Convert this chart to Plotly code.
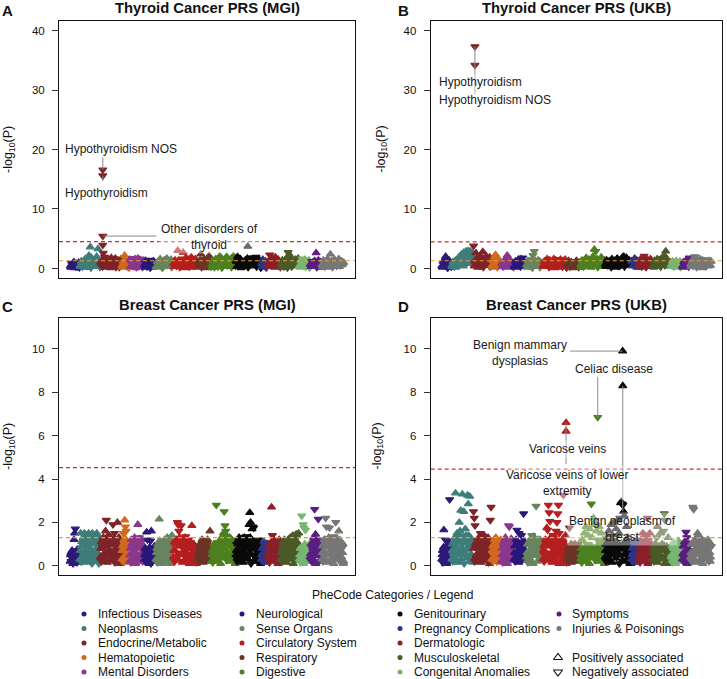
import plotly.graph_objects as go
from itertools import zip_longest

W, H = 727, 679
FONT = "Liberation Sans, Arial, Helvetica, sans-serif"

# ---------------- data ----------------
CATEGORIES = ["Infectious Diseases", "Neoplasms", "Endocrine/Metabolic", "Hematopoietic",
              "Mental Disorders", "Neurological", "Sense Organs", "Circulatory System",
              "Respiratory", "Digestive", "Genitourinary", "Pregnancy Complications",
              "Dermatologic", "Musculoskeletal", "Congenital Anomalies", "Symptoms",
              "Injuries & Poisonings"]
COLORS = ["#2E1A78", "#3F7D7B", "#7E2428", "#D2691E", "#8A378C", "#2A1779", "#688460",
          "#B41F1F", "#6B3427", "#4D8020", "#0A0A0A", "#2E3486", "#8B1F2A", "#4B5A28",
          "#77B672", "#5A1D80", "#777777"]

# number of phecodes per category (x extent of each block)
COUNTS_MGI = [60, 126, 132, 48, 90, 72, 108, 150, 84, 150, 156, 42, 78, 114, 66, 72, 138]
COUNTS_UKB = [63, 135, 114, 60, 78, 78, 102, 150, 84, 153, 165, 45, 87, 114, 69, 51, 132]

# -log10(P) per phecode, in phecode order; sign = direction (+ positive, - negative).
# *_VALUES hold the visible outline of each block, *_BASE the phecodes filling its body;
# the two are interleaved in phecode order.
A_VALUES = [
    "0.4 -0.9 0.2 1.1 -0.5 0.8 -0.3 1.0",
    "0.5 1.2 -0.3 0.9 1.6 0.2 1.4 2.2 3.6 1.8 -0.6 1.1 0.4 2.0 3.3 1.3",
    "-0.6 1.3 -2.6 -1.9 0.4 1.6 -0.8 1.2 1.8 0.3 -1.1 1.7 0.6 1.4 -0.2 1.5",
    "0.5 1.2 2.2 0.8 -0.3 1.0",
    "1.5 0.4 -1.7 0.9 1.6 -0.2 1.7 0.7 -1.6 1.2 0.5",
    "0.6 1.3 -0.3 1.1 0.8 -1.4 0.2 1.2 0.5",
    "0.3 1.1 -0.7 1.6 0.9 -0.2 1.4 0.6 1.7 -1.0 0.4 1.5 0.8",
    "0.8 1.4 -0.4 3.0 1.1 0.3 -1.6 2.7 1.2 1.8 -0.7 1.5 0.5 1.9 -1.2 0.9 1.6 0.2",
    "1.1 -0.5 2.4 1.3 0.7 -1.5 0.3 1.2 2.1 0.8",
    "0.6 1.3 -0.2 1.6 0.9 -1.1 2.1 0.4 1.5 1.0 -0.7 2.0 1.4 0.3 1.6 -0.9 2.1 1.2",
    "1.2 2.0 -0.5 1.6 0.8 -1.4 1.1 0.3 1.7 -0.9 1.5 0.6 -1.8 1.3 -1.9 0.7 1.6 1.0",
    "0.8 1.5 -0.4 1.2 0.6",
    "1.2 -2.3 0.6 1.7 -0.9 1.9 0.4 1.5 -1.1",
    "0.7 1.4 -0.3 1.1 1.8 -2.7 2.3 1.6 0.5 -1.2 1.5 0.9 1.7",
    "0.5 1.3 -1.6 0.8 1.5 0.2 -1.1 1.4",
    "0.7 -1.2 0.4 1.3 2.6 0.9 -0.5 1.1",
    "0.6 1.4 -0.3 1.1 1.6 -0.8 2.4 1.3 0.4 1.5 -1.0 0.7 1.6 -0.5 1.2 0.9",
]
A_BASE = [
    "0.2 -0.6 0.9 0.1 -0.3 0.7 0.5 -0.15",
    "0.3 -0.8 1.0 0.2 1.5 -0.4 0.7 1.2 -0.1 0.9 1.4 0.3 -1.0 0.6 1.1 -0.2",
    "0.9 -0.3 1.1 0.2 -1.3 0.7 1.4 0.1 -0.9 1.0 0.5 -0.2 1.2 0.8 -0.4 1.3",
    "0.2 -0.8 1.4 0.4 1.0 -0.1",
    "0.3 1.2 -0.6 1.4 0.1 1.0 -0.4 1.5 0.8 -0.2 1.1",
    "0.2 -0.9 0.5 1.0 -0.1 0.7 1.1 0.3 -0.8",
    "0.2 -0.8 1.2 0.5 -0.1 1.0 1.3 0.3 -0.6 1.1 0.7 -0.2 1.2",
    "0.3 -1.0 0.6 1.3 -0.2 1.0 0.5 -1.4 0.1 1.1 0.7 -0.3 1.4 0.2 1.0 -0.6 1.2 0.4",
    "0.4 1.4 -0.2 0.9 1.5 0.1 -1.0 0.6 1.3 -0.3",
    "0.2 -0.9 1.1 0.5 -0.3 1.3 0.7 -0.1 1.2 0.4 1.4 -0.5 0.8 1.1 -0.2 1.3 0.6 -0.4",
    "0.3 -0.9 1.3 0.1 1.1 -0.6 1.4 0.5 -0.2 1.2 0.8 -1.1 0.4 1.0 -0.3 1.3 0.6 -0.1",
    "0.3 -1.0 0.5 -0.1 0.9",
    "0.3 1.0 -0.5 1.4 0.2 -1.2 0.8 1.1 -0.2",
    "0.2 -0.9 1.2 0.5 -0.1 1.4 0.8 -0.3 1.1 0.4 -1.3 0.6 1.0",
    "0.2 -0.9 1.1 0.4 -0.3 1.2 0.7 -0.1",
    "0.3 1.0 -0.8 0.6 -0.2 1.4 0.2 -0.6",
    "0.3 -0.9 1.0 0.2 -1.2 0.9 0.5 -0.2 1.1 0.8 -0.4 1.3 0.3 -1.1 0.6 1.0",
]
B_VALUES = [
    "0.4 1.2 -0.6 2.0 0.9 -0.2 1.3 0.7",
    "0.5 1.1 -0.3 1.3 0.8 1.6 -0.9 2.0 1.2 2.4 0.6 2.7 1.5 2.9 -1.0 3.0 2.2 2.9 1.4 2.6",
    "-3.8 1.2 2.6 0.7 -1.5 2.0 0.4 1.8 2.8 1.3 -0.8 2.1 1.6 0.5 1.9 -1.2",
    "0.5 1.3 1.9 2.3 1.4 -0.6 1.0 0.3",
    "0.8 -0.3 1.4 1.1 2.2 1.6 0.5 -1.2 1.0",
    "0.4 1.2 -0.7 1.5 0.9 1.6 -1.8 1.1 0.6",
    "0.6 1.3 -0.4 1.0 1.4 -2.2 -2.9 1.2 0.3 1.4 -0.9 1.1 0.7",
    "0.5 1.2 -0.8 1.6 0.3 1.4 -1.1 0.9 1.6 0.6 -1.5 1.2 0.2 1.5 -0.6 1.3 1.0 0.4",
    "0.7 1.3 -0.3 1.1 0.5 -1.2 0.9 1.3 0.2 1.0",
    "0.6 1.4 -0.3 1.1 1.8 0.4 1.5 -0.9 1.2 2.0 3.2 -2.9 1.6 0.8 -1.3 1.9 0.5 1.2",
    "0.7 1.4 -0.5 1.2 0.3 1.6 -1.0 1.3 0.8 1.7 -0.4 1.1 1.5 1.9 2.0 -1.2 1.8 0.6 1.4 0.9",
    "1.2 0.5 1.7 -0.9 1.3",
    "0.6 1.5 -0.3 1.2 -2.1 1.7 0.9 1.4 -1.0 1.6 0.4",
    "0.5 1.3 -0.8 1.6 1.0 -0.4 1.7 1.2 2.2 2.9 1.5 0.7 1.1",
    "0.6 1.2 -0.3 1.0 1.3 0.4 -0.9 1.2 0.7",
    "0.4 1.1 -0.7 1.0 0.6 -1.8",
    "0.7 1.3 -0.4 -2.0 1.5 1.1 0.3 1.6 -0.9 1.4 0.6 1.2 -1.5 0.8 1.3 0.5",
]
B_BASE = [
    "0.2 -0.8 1.0 0.4 -0.1 1.4 0.6 -0.3",
    "0.3 -0.7 0.9 0.2 1.1 -0.5 1.4 0.6 -1.5 1.8 0.4 1.3 -2.0 0.9 2.2 1.1 -1.7 2.4 0.8 1.9",
    "0.4 -1.0 1.6 0.2 1.1 -0.4 1.4 0.8 -0.2 1.7 0.5 -1.3 0.9 1.5 -0.3 1.0",
    "0.2 -0.9 1.2 0.6 -0.2 1.6 0.8 -0.5",
    "0.3 1.0 -0.6 1.5 0.2 -0.9 1.3 0.6 -0.2",
    "0.2 -1.0 0.5 1.3 -0.3 1.0 0.3 -1.2 0.8",
    "0.2 -0.8 1.2 0.5 -0.1 1.0 0.8 -1.2 0.4 1.3 -0.2 0.9 0.5",
    "0.3 -1.0 0.8 1.3 -0.2 1.1 0.5 -1.3 0.1 1.4 0.7 -0.4 1.2 0.9 -0.3 0.6 1.5 -0.1",
    "0.3 1.0 -0.6 0.8 0.1 -0.9 1.2 0.5 -0.2 0.7",
    "0.2 -0.8 1.0 0.4 -1.3 0.9 1.3 0.2 -0.5 1.1 1.4 0.6 -0.2 1.0 0.3 -1.1 0.8 1.4",
    "0.3 -0.9 1.1 0.5 -0.2 1.4 0.8 -1.2 0.2 1.0 1.3 -0.6 0.4 1.6 -0.3 1.1 0.7 -1.0 0.5 1.2",
    "0.4 -1.0 0.9 0.2 -0.6",
    "0.2 1.1 -0.7 0.5 1.3 -0.2 0.8 1.2 0.3 -1.1 0.9",
    "0.2 -0.9 1.1 0.4 1.4 -0.3 0.9 1.5 -0.5 1.3 0.8 -1.2 0.4",
    "0.3 -0.8 0.9 0.2 -1.1 0.7 0.5 -0.2 1.0",
    "0.2 -0.8 1.3 0.5 -0.3 0.9",
    "0.3 -1.0 0.9 1.2 -0.2 0.6 1.4 0.1 -1.2 0.8 1.1 -0.3 1.0 0.4 -0.8 1.2",
]
C_VALUES = [
    "0.2 0.6 -0.4 0.7 0.1 -0.5 1.2 1.5 -1.7 0.3 -0.6 0.75 0.4 0.15 0.55",
    "0.3 1.5 0.9 -0.2 1.2 0.6 1.5 -1.0 0.4 1.4 0.8 -0.5 1.5 1.1 0.2 -1.3 0.7 1.5 1.0 -0.4 1.4 0.6 1.2 1.5 0.3 0.9 -0.1 1.3",
    "0.4 1.1 -0.3 0.8 1.3 0.2 -0.9 1.6 -2.1 1.2 0.5 1.4 -1.0 0.7 1.3 -0.4 1.1 -1.9 0.6 -1.5 1.2 0.3 1.0 2.0 -0.8 1.3 0.5 0.1 0.9",
    "0.3 0.9 -1.5 1.2 2.1 -1.8 -1.6 0.6 1.1 0.4 0.15",
    "0.2 0.8 1.2 -0.5 1.0 0.4 1.3 -0.9 0.6 1.1 1.9 0.3 -1.3 0.9 0.5 1.2 -0.2 0.7",
    "0.3 0.8 -0.5 1.55 -1.2 0.6 0.1 0.85 -1.15 1.6 0.4 -0.7 0.2 0.9 0.5",
    "0.3 0.8 -0.2 1.0 2.15 0.5 -0.9 0.7 1.1 0.2 -0.6 1.2 0.9 0.4 1.3 -1.0 0.6 1.2 0.1 -1.3 1.4 0.8",
    "0.4 1.1 0.7 -0.3 1.2 -2.0 -1.9 -1.6 1.3 0.5 -1.85 0.9 1.2 0.2 -0.8 1.3 -1.35 0.6 1.1 0.3 -1.0 0.8 1.0 0.5 1.85 -0.7 1.0 0.2 0.9 0.6 0.1 0.4",
    "0.3 0.7 -0.5 1.0 0.2 1.2 -0.8 0.6 1.1 0.4 -1.0 0.9 1.2 0.2 0.7 1.6 0.5",
    "0.2 0.7 -0.4 1.0 0.5 0.9 -2.8 0.3 1.0 -0.6 0.8 1.2 0.4 1.3 -1.0 1.5 -2.5 -1.85 -1.6 1.4 0.6 1.2 -0.3 1.3 0.9 1.1 0.5 -1.2 0.8 0.3 0.1",
    "0.5 1.1 -0.3 0.8 1.3 0.2 1.0 -0.7 1.2 0.6 -1.3 1.3 0.4 -1.35 1.0 0.3 1.2 1.9 2.45 2.0 0.8 1.7 -1.8 -1.75 1.1 -0.5 0.9 0.3 1.0 -0.6 0.7 0.2 0.1",
    "0.3 0.8 -0.5 1.1 0.2 -0.9 0.6 1.0",
    "0.4 1.0 -0.2 0.7 2.7 -1.4 1.2 0.3 -0.8 1.1 0.5 0.9 -0.3 1.2 0.6",
    "0.3 0.8 -0.5 1.1 0.2 0.9 -0.7 1.0 0.4 1.2 -0.3 0.8 1.3 0.5 -1.1 1.4 0.7 1.35 -0.9 1.45 1.1 0.4 1.5",
    "0.3 0.8 -0.4 -2.3 0.6 -1.9 -1.75 1.0 -1.65 0.2 0.9 -0.6 0.5 1.0",
    "0.4 1.0 -0.3 0.8 1.3 -2.6 1.45 0.6 -1.2 -2.15 0.2 1.1 0.7",
    "0.3 0.9 -0.5 1.2 0.6 -2.2 -1.8 1.0 0.2 1.3 -1.75 0.7 1.1 -0.4 0.5 1.2 -1.35 0.8 -2.0 0.3 1.0 -0.6 1.6 0.9 0.4 1.1 -0.8 0.6 0.1",
]
C_BASE = [
    "0.5 -0.2 0.3 0.65 -0.1 0.45 0.2 -0.7 0.35 0.55 -0.15 0.6 0.25 -0.4 0.5",
    "0.7 -0.2 1.1 0.4 1.3 -0.6 0.9 0.15 1.2 -0.8 0.5 1.4 0.3 -1.0 0.8 1.3 -0.1 0.6 1.1 0.35 -1.2 0.75 1.4 0.2 -0.9 0.55 1.2 0.4",
    "0.8 -0.2 1.0 0.5 -1.2 0.3 0.9 1.25 -0.6 0.15 1.1 0.7 -0.4 1.3 0.25 0.95 -1.1 0.55 1.2 -0.15 0.8 0.4 1.05 -0.7 0.3 1.2 0.6 -0.9 0.2",
    "0.7 -0.2 1.0 0.4 1.25 -0.8 0.5 1.1 0.25 -0.6 0.9",
    "0.5 -0.15 1.0 0.3 1.2 -0.7 0.6 0.1 1.1 -0.4 0.8 0.25 1.25 -0.9 0.45 1.0 0.2 -0.6",
    "0.5 -0.2 0.75 0.3 -0.6 0.15 0.8 0.45 -0.1 0.65 0.35 -0.8 0.2 0.55 -0.4",
    "0.6 -0.15 1.0 0.35 1.15 -0.5 0.8 0.1 1.05 -0.7 0.45 0.9 0.2 -1.1 0.65 1.2 0.3 -0.85 0.5 1.0 -0.25 0.7",
    "0.7 -0.2 1.0 0.4 1.15 -0.6 0.25 0.9 -1.1 0.5 1.2 0.15 -0.8 0.65 1.05 0.3 -0.45 0.95 0.55 -1.2 0.1 0.8 1.1 -0.35 0.6 0.2 1.0 -0.7 0.45 0.85 -0.15 0.5",
    "0.5 -0.2 0.9 0.35 1.1 -0.6 0.15 0.8 -1.05 0.45 0.65 0.25 -0.85 1.0 0.3 -0.5 0.6",
    "0.5 -0.15 0.8 0.3 1.0 -0.6 0.2 0.9 -0.4 0.65 1.1 0.1 -0.85 0.55 1.2 0.35 -1.0 0.75 1.3 -0.25 0.5 1.1 0.2 -0.9 1.25 0.6 0.4 -1.1 1.0 0.3 0.7",
    "0.7 -0.2 1.0 0.45 1.25 -0.6 0.3 0.9 -1.1 0.15 1.2 0.55 -0.8 1.05 0.35 -0.4 0.95 0.6 1.3 -0.1 0.75 1.15 -0.5 0.25 1.0 -0.9 0.5 0.8 0.2 -1.2 0.65 0.4 0.9",
    "0.5 -0.2 0.9 0.35 -0.7 0.15 1.0 0.6",
    "0.6 -0.15 0.9 0.3 1.1 -0.5 0.2 0.8 -1.0 0.45 0.7 0.1 -0.6 1.05 0.35",
    "0.6 -0.2 1.0 0.35 1.2 -0.6 0.15 0.85 -1.0 0.5 1.25 0.3 -0.8 0.7 1.1 0.1 -0.45 0.95 0.55 -1.3 0.25 1.0 0.6",
    "0.5 -0.15 0.8 0.3 -0.65 0.1 0.95 0.45 -0.2 0.7 0.35 -0.9 0.6 0.2",
    "0.55 -0.2 0.9 0.3 1.15 -0.6 0.1 0.8 -1.0 0.45 0.7 0.25 -0.5",
    "0.6 -0.2 1.0 0.35 1.2 -0.6 0.15 0.85 -1.05 0.5 1.15 0.25 -0.8 0.7 1.0 0.1 -0.45 0.95 0.55 -1.25 0.3 0.8 1.1 -0.2 0.6 0.4 -0.9 1.0 0.2",
]
D_VALUES = [
    "0.3 0.7 -0.2 1.65 0.5 -1.2 0.9 0.1 -1.15 0.6 1.0 -3.05 0.4 0.8",
    "0.3 1.0 0.6 -0.4 1.3 3.35 0.8 1.5 0.2 1.1 2.0 1.6 2.55 -0.7 3.3 1.2 2.5 0.5 1.7 1.4 -1.0 3.25 2.85 0.9 3.2 1.3 0.4 1.1 0.15",
    "-2.5 -2.2 -1.85 0.4 1.1 -0.3 0.8 1.3 0.2 -1.5 0.9 1.2 0.5 -0.8 1.4 0.3 1.0 -1.2 0.6 1.3 0.9 0.1 -2.1 -2.7",
    "0.3 0.9 -0.5 1.2 0.6 1.3 -0.2 1.0 0.4 -1.1 0.8 1.2",
    "0.2 0.8 -0.4 1.1 0.6 1.3 -0.9 0.4 1.0 -1.85 -1.8 0.7 1.2 -0.3 0.9 0.5",
    "0.3 0.9 -0.5 1.2 -1.65 0.6 0.2 -1.5 1.0 0.4 -1.4 1.1 0.7 -2.4 0.5 1.0 0.3",
    "0.4 1.0 -0.3 0.7 1.2 0.2 -1.4 0.9 1.35 0.5 1.1 -2.75 0.6 1.2 -0.8 0.3 1.0 0.5 1.1",
    "0.3 0.9 -0.5 1.2 0.6 1.75 -1.65 -2.8 -2.45 -2.05 1.3 0.4 1.0 -1.4 0.2 0.8 1.3 -1.6 -2.0 -2.4 -2.8 -1.5 0.7 1.1 0.3 -0.9 1.2 0.5 1.0 1.4 0.1",
    "0.3 0.8 -0.4 -1.75 0.6 1.0 0.2 -0.7 0.9 0.4 1.0 -0.3 0.7 0.5 -1.0 0.8 0.2",
    "0.3 0.8 1.2 -0.5 0.6 1.5 0.2 1.8 -1.0 0.9 1.4 0.4 1.7 -0.7 -2.85 1.3 0.6 2.2 1.9 2.0 0.8 1.6 -1.2 0.5 1.8 1.1 0.3 1.5 -0.8 1.2 0.6 0.1",
    "0.4 1.0 -0.3 1.3 0.7 1.6 0.2 -1.1 1.9 0.9 1.4 -0.6 2.0 1.2 0.5 1.7 -1.4 2.1 0.8 1.5 -2.2 2.9 2.95 -2.85 -2.8 2.5 2.3 1.1 0.6 1.8 -0.9 1.3 0.3 1.0 0.7 0.1",
    "0.3 0.8 -0.5 1.1 0.2 0.9 -0.7 1.2 0.5 0.9",
    "0.3 0.9 -0.4 1.2 0.6 1.5 -0.8 1.0 1.4 0.2 -1.2 -2.2 1.3 0.7 1.5 -0.5 1.0 0.4",
    "0.3 0.8 -0.5 1.0 0.2 -1.3 1.8 0.6 0.9 -0.4 1.5 0.7 1.0 0.3 -1.6 -2.4 -2.1 0.5 0.9 -0.7 1.3 0.4 0.8 0.1",
    "0.4 0.9 -0.3 1.1 0.6 0.2 -0.8 1.0 0.5 1.15 -0.6 0.8 0.3 1.0",
    "0.3 0.9 -0.4 1.1 0.6 -1.55 -1.3 0.8 0.2 1.0 0.5",
    "0.4 1.0 -0.3 -2.7 -2.6 0.7 1.2 0.2 -0.9 1.5 1.4 0.6 1.1 -0.5 0.9 1.2 0.3 -1.0 0.8 1.1 0.5 -0.7 1.2 0.4 0.9 0.2 1.0",
]
D_BASE = [
    "0.5 -0.15 0.85 0.3 -0.6 0.1 0.75 0.45 -0.25 0.95 0.2 -0.7 0.55 0.35",
    "0.7 -0.2 1.1 0.4 1.3 -0.6 0.9 0.15 1.2 -0.8 0.5 1.4 0.3 -1.0 0.8 1.3 -0.1 0.6 1.1 0.35 -1.2 0.75 1.4 0.2 -0.9 0.55 1.2 0.4 1.0",
    "0.8 -0.2 1.0 0.5 -1.2 0.3 0.9 1.25 -0.6 0.15 1.1 0.7 -0.4 1.3 0.25 0.95 -1.1 0.55 1.2 -0.15 0.8 0.4 1.05 0.6",
    "0.7 -0.2 1.0 0.4 1.25 -0.8 0.5 1.1 0.25 -0.6 0.9 0.15",
    "0.5 -0.15 1.0 0.3 1.2 -0.7 0.6 0.1 1.1 -0.4 0.8 0.25 1.25 -0.9 0.45 1.0",
    "0.6 -0.2 0.95 0.3 1.1 -0.6 0.15 0.8 -1.0 0.45 0.7 0.25 -0.85 1.15 0.35 -0.5 0.65",
    "0.6 -0.15 1.0 0.35 1.15 -0.5 0.8 0.1 1.05 -0.7 0.45 0.9 0.2 -1.1 0.65 1.2 0.3 -0.85 0.5",
    "0.7 -0.2 1.0 0.4 1.15 -0.6 0.25 0.9 -1.1 0.5 1.2 0.15 -0.8 0.65 1.05 0.3 -0.45 0.95 0.55 -1.2 0.1 0.8 1.1 -0.35 0.6 0.2 1.0 -0.7 0.45 0.85 -0.15",
    "0.5 -0.2 0.85 0.35 -0.6 0.15 0.7 0.95 -0.3 0.45 0.6 0.25 -0.8 0.9 0.3 -0.5 0.55",
    "0.5 -0.15 0.8 0.3 0.7 -0.6 0.2 0.9 -0.4 0.65 0.85 0.1 -0.75 0.55 0.9 0.35 -0.5 0.75 0.6 -0.25 0.45 0.85 0.2 -0.9 0.7 0.6 0.4 -0.8 0.9 0.3 0.7 0.15",
    "0.7 -0.2 1.0 0.45 0.9 -0.6 0.3 0.8 -1.0 0.15 1.1 0.55 -0.8 0.95 0.35 -0.4 0.9 0.6 1.0 -0.1 0.75 0.85 -0.5 0.25 1.0 -0.9 0.5 0.8 0.2 -1.0 0.65 0.4 0.9 0.1 -0.7 0.55",
    "0.5 -0.2 0.9 0.35 -0.7 0.15 1.0 0.6 -0.4 0.8",
    "0.6 -0.15 0.9 0.3 1.0 -0.5 0.2 0.8 -0.95 0.45 0.7 0.1 -0.6 1.0 0.35 -0.25 0.85 0.5",
    "0.6 -0.2 0.9 0.35 0.95 -0.6 0.15 0.8 -0.7 0.5 0.9 0.3 -0.8 0.7 0.95 0.1 -0.45 0.85 0.55 -0.9 0.25 0.75 0.6 0.4",
    "0.5 -0.15 0.8 0.3 -0.65 0.1 0.95 0.45 -0.2 0.7 0.35 -0.9 0.6 0.2",
    "0.55 -0.2 0.9 0.3 1.0 -0.6 0.1 0.8 -0.9 0.45 0.7",
    "0.6 -0.2 1.0 0.35 1.15 -0.6 0.15 0.85 -1.05 0.5 1.1 0.25 -0.8 0.7 1.0 0.1 -0.45 0.95 0.55 -1.2 0.3 0.8 1.1 -0.2 0.6 0.4 -0.9",
]

# notable phecodes: category, index within category, signed -log10(P), label
A_HIT_CAT = ["Endocrine/Metabolic", "Endocrine/Metabolic", "Endocrine/Metabolic", "Endocrine/Metabolic", "Genitourinary"]
A_HIT_IDX = [16, 16, 16, 16, 74]
A_HIT_VAL = [-16.6, -15.6, -5.45, -3.95, 3.7]
A_HIT_LABEL = ["Hypothyroidism NOS", "Hypothyroidism", "Other disorders of<br>thyroid", "", ""]

B_HIT_CAT = ["Endocrine/Metabolic", "Endocrine/Metabolic"]
B_HIT_IDX = [10, 10]
B_HIT_VAL = [-37.3, -34.2]
B_HIT_LABEL = ["Hypothyroidism", "Hypothyroidism NOS"]

C_HIT_CAT, C_HIT_IDX, C_HIT_VAL, C_HIT_LABEL = [], [], [], []

D_HIT_CAT = ["Genitourinary", "Genitourinary", "Digestive", "Circulatory System", "Circulatory System", "Circulatory System"]
D_HIT_IDX = [110, 111, 108, 145, 145, 128]
D_HIT_VAL = [9.9, 8.3, -6.85, 6.6, 6.2, -3.26]
D_HIT_LABEL = ["Benign mammary<br>dysplasias", "Benign neoplasm of<br>breast", "Celiac disease",
               "Varicose veins of lower<br>extremity", "Varicose veins", ""]

NOMINAL = 1.30          # -log10(0.05)
BONF_MGI = 4.53
BONF_UKB = 4.46

# label placement (pixels): xshift, yshift, leader dx, leader dy, xanchor
A_LABEL_POS = [(18, 21, 0, -14, "center"), (4, -17, 0, 7, "center"), (107, -1, 55, 0, "center"), None, None]
B_LABEL_POS = [(-38, -35, 0, 49, "left"), (-38, -35, None, None, "left")]
C_LABEL_POS = []
D_LABEL_POS = [(-103, -1.5, -54, 0, "center"), (0, -143, 0, 127, "center"), (16, 48, 0, -42, "center"),
               (1, -60, 0, 43, "center"), (1, -18, None, None, "center"), None]

# ---------------- figure ----------------
def parse(s):
    return [float(t) for t in s.split()]


def merged(outline, body):
    out = []
    for a, b in zip_longest(parse(outline), parse(body)):
        if a is not None:
            out.append(a)
        if b is not None:
            out.append(b)
    return out


panels = [
    dict(letter="A", title="Thyroid Cancer PRS (MGI)", counts=COUNTS_MGI, values=A_VALUES, base=A_BASE,
         hc=A_HIT_CAT, hi=A_HIT_IDX, hv=A_HIT_VAL, hl=A_HIT_LABEL, hp=A_LABEL_POS,
         ymax=40, ticks=[0, 10, 20, 30, 40], bonf=BONF_MGI,
         px=(59, 355), py=(21, 278), ylab_x=8.5, letter_x=7.5),
    dict(letter="B", title="Thyroid Cancer PRS (UKB)", counts=COUNTS_UKB, values=B_VALUES, base=B_BASE,
         hc=B_HIT_CAT, hi=B_HIT_IDX, hv=B_HIT_VAL, hl=B_HIT_LABEL, hp=B_LABEL_POS,
         ymax=40, ticks=[0, 10, 20, 30, 40], bonf=BONF_UKB,
         px=(430.7, 722.3), py=(21, 278), ylab_x=381, letter_x=403.5),
    dict(letter="C", title="Breast Cancer PRS (MGI)", counts=COUNTS_MGI, values=C_VALUES, base=C_BASE,
         hc=C_HIT_CAT, hi=C_HIT_IDX, hv=C_HIT_VAL, hl=C_HIT_LABEL, hp=C_LABEL_POS,
         ymax=11, ticks=[0, 2, 4, 6, 8, 10], bonf=BONF_MGI,
         px=(59, 355), py=(317.7, 575.3), ylab_x=8.5, letter_x=7.5),
    dict(letter="D", title="Breast Cancer PRS (UKB)", counts=COUNTS_UKB, values=D_VALUES, base=D_BASE,
         hc=D_HIT_CAT, hi=D_HIT_IDX, hv=D_HIT_VAL, hl=D_HIT_LABEL, hp=D_LABEL_POS,
         ymax=11, ticks=[0, 2, 4, 6, 8, 10], bonf=BONF_UKB,
         px=(430.7, 722.3), py=(317.7, 575.3), ylab_x=377, letter_x=403.5),
]

fig = go.Figure()
layout = {}
annotations = []
shapes = []

MSIZE = 7.0
MLINE = 1.2

for k, p in enumerate(panels, start=1):
    xa = "x" if k == 1 else f"x{k}"
    ya = "y" if k == 1 else f"y{k}"
    counts = p["counts"]
    n_total = sum(counts)
    starts = [sum(counts[:i]) for i in range(len(counts))]
    xpad = 0.04 * (n_total - 1)
    ypad = 0.04 * p["ymax"]
    layout["xaxis" + ("" if k == 1 else str(k))] = dict(
        domain=[p["px"][0] / W, p["px"][1] / W], range=[-xpad, n_total + xpad], anchor=ya,
        showgrid=False, zeroline=False, showticklabels=False, ticks="",
        showline=True, mirror=True, linecolor="#111", linewidth=1)
    layout["yaxis" + ("" if k == 1 else str(k))] = dict(
        domain=[1 - p["py"][1] / H, 1 - p["py"][0] / H], range=[-ypad, p["ymax"] + ypad], anchor=xa,
        tickvals=p["ticks"], ticks="outside", ticklen=6, tickcolor="#333", tickwidth=1,
        tickfont=dict(size=11.5, color="#111"), ticklabelstandoff=5,
        showgrid=False, zeroline=False, showline=True, mirror=True, linecolor="#111", linewidth=1)

    for i, cat in enumerate(CATEGORIES):
        vals = merged(p["values"][i], p["base"][i])
        n = len(vals)
        xs = [starts[i] + (j + 0.5) * counts[i] / n for j in range(n)]
        ys = [abs(v) for v in vals]
        sy = ["triangle-up" if v > 0 else "triangle-down" for v in vals]
        fig.add_trace(go.Scatter(x=xs, y=ys, mode="markers", xaxis=xa, yaxis=ya,
                                 marker=dict(symbol=sy, size=MSIZE, color=COLORS[i],
                                             line=dict(width=MLINE, color=COLORS[i])),
                                 hoverinfo="skip", showlegend=False))

    # notable phecodes
    for c, idx, v in zip(p["hc"], p["hi"], p["hv"]):
        ci = CATEGORIES.index(c)
        fig.add_trace(go.Scatter(x=[starts[ci] + idx], y=[abs(v)], mode="markers", xaxis=xa, yaxis=ya,
                                 marker=dict(symbol="triangle-up" if v > 0 else "triangle-down",
                                             size=MSIZE, color=COLORS[ci],
                                             line=dict(width=MLINE, color=COLORS[ci])),
                                 hoverinfo="skip", showlegend=False))

    # threshold lines
    for yv, col in ((p["bonf"], "#D02C2C"), (NOMINAL, "#E3A035")):
        shapes.append(dict(type="line", xref=f"{xa} domain", yref=ya, x0=0, x1=1, y0=yv, y1=yv,
                           line=dict(color=col, width=1.2, dash="4px,3px"), layer="above"))

    # leader lines first, then labels (labels sit over them)
    for c, idx, v, lab, pos in zip(p["hc"], p["hi"], p["hv"], p["hl"], p["hp"]):
        if pos is None or not lab:
            continue
        ci = CATEGORIES.index(c)
        if pos[2] is not None:
            annotations.append(dict(x=starts[ci] + idx, y=abs(v), xref=xa, yref=ya, text="",
                                    showarrow=True, arrowhead=0, arrowwidth=1, arrowcolor="#8a8a8a",
                                    ax=pos[2], ay=pos[3], standoff=0))
    for c, idx, v, lab, pos in zip(p["hc"], p["hi"], p["hv"], p["hl"], p["hp"]):
        if pos is None or not lab:
            continue
        ci = CATEGORIES.index(c)
        annotations.append(dict(x=starts[ci] + idx, y=abs(v), xref=xa, yref=ya, text=lab,
                                showarrow=False, xshift=pos[0], yshift=pos[1], xanchor=pos[4],
                                yanchor="middle", align="center",
                                font=dict(size=12, color="#1a1a1a"),
                                bgcolor="rgba(255,255,255,0.4)", borderpad=1))

    # titles, letters, axis labels (pixel space overlay)
    cx = (p["px"][0] + p["px"][1]) / 2
    annotations.append(dict(x=cx, y=p["py"][0] - 13, xref="x5", yref="y5", text="<b>" + p["title"] + "</b>",
                            showarrow=False, xanchor="center", yanchor="middle",
                            font=dict(size=14.8, color="#111")))
    annotations.append(dict(x=p["letter_x"], y=p["py"][0] - 11, xref="x5", yref="y5",
                            text="<b>" + p["letter"] + "</b>", showarrow=False,
                            xanchor="center", yanchor="middle", font=dict(size=15, color="#111")))
    annotations.append(dict(x=p["ylab_x"], y=(p["py"][0] + p["py"][1]) / 2, xref="x5", yref="y5",
                            text="-log<sub>10</sub>(P)", textangle=-90, showarrow=False,
                            xanchor="center", yanchor="middle", font=dict(size=12.5, color="#111")))

# ---------------- legend (pixel-space overlay axis) ----------------
LEG_DOT_X = [84, 242, 400, 559]
LEG_TEXT_X = [96, 254, 412, 570]
LEG_ROW_Y = [614, 628.5, 643, 657.5, 672]

annotations.append(dict(x=392, y=595, xref="x5", yref="y5", text="PheCode Categories / Legend",
                        showarrow=False, xanchor="center", yanchor="middle",
                        font=dict(size=12, color="#111")))
dx, dy, dc = [], [], []
for i, cat in enumerate(CATEGORIES):
    col, row = divmod(i, 5)
    dx.append(LEG_DOT_X[col])
    dy.append(LEG_ROW_Y[row])
    dc.append(COLORS[i])
    annotations.append(dict(x=LEG_TEXT_X[col], y=LEG_ROW_Y[row], xref="x5", yref="y5", text=cat,
                            showarrow=False, xanchor="left", yanchor="middle",
                            font=dict(size=12, color="#111")))
fig.add_trace(go.Scatter(x=dx, y=dy, mode="markers", xaxis="x5", yaxis="y5",
                         marker=dict(symbol="circle", size=5, color=dc, line=dict(width=0)),
                         hoverinfo="skip", showlegend=False))
fig.add_trace(go.Scatter(x=[LEG_DOT_X[3] - 1, LEG_DOT_X[3] - 1], y=[LEG_ROW_Y[3], LEG_ROW_Y[4]],
                         mode="markers", xaxis="x5", yaxis="y5",
                         marker=dict(symbol=["triangle-up-open", "triangle-down-open"], size=8,
                                     color="#111", line=dict(width=1.1, color="#111")),
                         hoverinfo="skip", showlegend=False))
for row, txt in ((3, "Positively associated"), (4, "Negatively associated")):
    annotations.append(dict(x=LEG_TEXT_X[3], y=LEG_ROW_Y[row], xref="x5", yref="y5", text=txt,
                            showarrow=False, xanchor="left", yanchor="middle",
                            font=dict(size=12, color="#111")))

layout["xaxis5"] = dict(domain=[0, 1], range=[0, W], anchor="y5", visible=False, fixedrange=True)
layout["yaxis5"] = dict(domain=[0, 1], range=[H, 0], anchor="x5", visible=False, fixedrange=True)

fig.update_layout(**layout)
fig.update_layout(width=W, height=H, margin=dict(l=0, r=0, t=0, b=0),
                  paper_bgcolor="white", plot_bgcolor="rgba(0,0,0,0)",
                  showlegend=False, font=dict(family=FONT, color="#111"),
                  annotations=annotations, shapes=shapes)

fig.write_html("out.html", config={"displayModeBar": False},
               post_script="document.body.style.margin='0px';")
